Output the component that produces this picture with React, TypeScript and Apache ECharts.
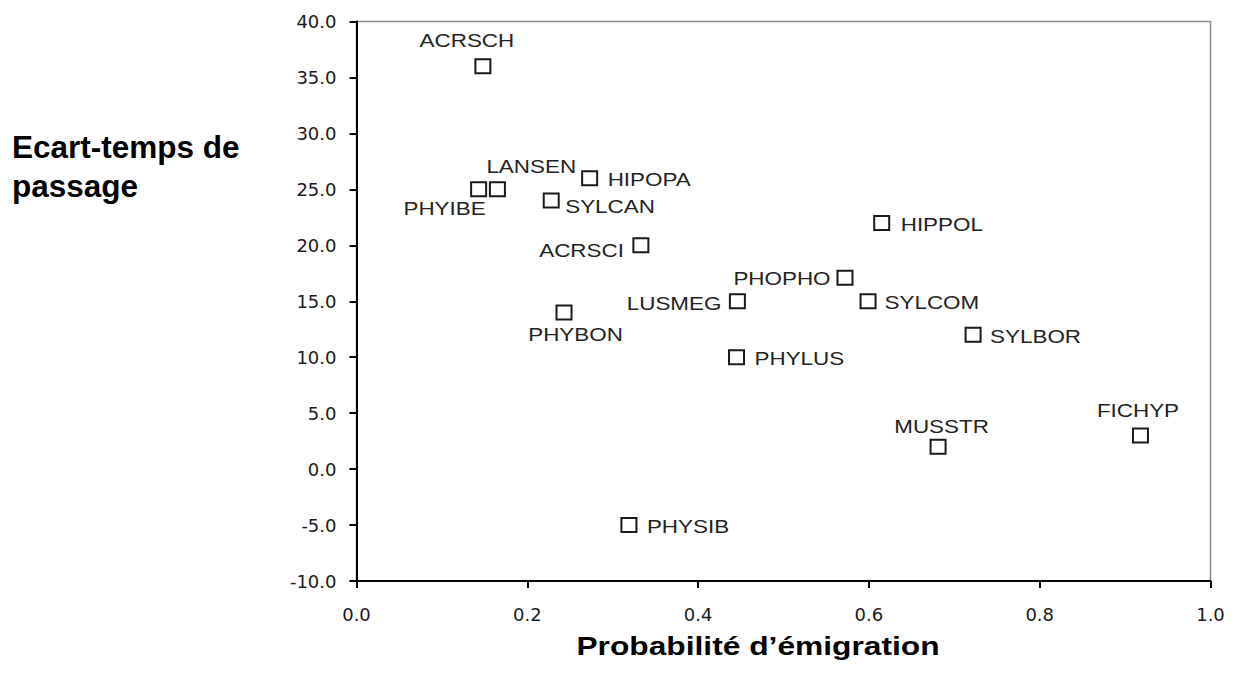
import React, { useEffect, useRef } from "react";
import * as echarts from "echarts";

// Species codes and their two measured traits
const species = [
  "ACRSCH", "PHYIBE", "LANSEN", "HIPOPA", "SYLCAN", "ACRSCI", "PHYBON", "LUSMEG",
  "PHOPHO", "PHYLUS", "SYLCOM", "HIPPOL", "SYLBOR", "MUSSTR", "FICHYP", "PHYSIB",
];
const emigration = [
  0.148, 0.143, 0.165, 0.273, 0.228, 0.333, 0.243, 0.446,
  0.572, 0.445, 0.599, 0.615, 0.722, 0.681, 0.918, 0.319,
];
const passageGap = [
  36, 25, 25, 26, 24, 20, 14, 15,
  17.1, 10, 15, 22, 12, 2, 3, -5,
];

// Axis ranges
const xRange = { min: 0, max: 1, step: 0.2 };
const yRange = { min: -10, max: 40, step: 5 };

// Label placement around each marker: [align, dx, dy]
const labelPlacement: Record<string, [string, number, number]> = {
  ACRSCH: ["center", -16, -26],
  PHYIBE: ["right", 7, 18.5],
  LANSEN: ["left", -11, -23],
  HIPOPA: ["left", 18, 0.5],
  SYLCAN: ["left", 14, 5.5],
  ACRSCI: ["right", -17, 4.5],
  PHYBON: ["center", 11.5, 21.5],
  LUSMEG: ["right", -16, 1.5],
  PHOPHO: ["right", -14.5, 0.7],
  PHYLUS: ["left", 18, 1],
  SYLCOM: ["left", 16.5, 0.8],
  HIPPOL: ["left", 19, 1],
  SYLBOR: ["left", 17, 1.2],
  MUSSTR: ["center", 3.5, -21],
  FICHYP: ["center", -2.5, -25],
  PHYSIB: ["left", 18, 1],
};

const labelFont = '19px "Liberation Sans", Arial, sans-serif';
const tickFont = "DejaVu Sans";
const titleFont = 'bold 31.5px "Liberation Sans", Arial, sans-serif';

export default function App() {
  const ref = useRef<HTMLDivElement>(null);

  useEffect(() => {
    if (!ref.current) return;
    const chart = echarts.init(ref.current, undefined, { renderer: "svg" });

    const points = species.map((_, i) => [emigration[i], passageGap[i]]);

    const axisCommon = {
      type: "value" as const,
      axisLine: { show: true, onZero: false, lineStyle: { color: "#000", width: 2 } },
      axisTick: { show: true, length: 7, lineStyle: { color: "#000", width: 2 } },
      splitLine: { show: false },
    };

    chart.setOption({
      animation: false,
      backgroundColor: "#fff",
      grid: {
        left: 356.5,
        top: 21.5,
        right: 30.5,
        bottom: 92,
        show: true,
        borderColor: "#8c8c8c",
        borderWidth: 1.5,
      },
      xAxis: {
        ...axisCommon,
        min: xRange.min,
        max: xRange.max,
        interval: xRange.step,
        axisLabel: {
          formatter: (v: number) => v.toFixed(1),
          margin: 24,
          color: "#1a1a1a",
          fontSize: 18,
          fontFamily: tickFont,
        },
      },
      yAxis: {
        ...axisCommon,
        min: yRange.min,
        max: yRange.max,
        interval: yRange.step,
        axisLabel: {
          formatter: (v: number) => v.toFixed(1),
          margin: 20,
          color: "#1a1a1a",
          fontSize: 18,
          fontFamily: tickFont,
        },
      },
      series: [
        {
          type: "custom",
          clip: false,
          z: 10,
          data: points,
          renderItem: (params: any, api: any) => {
            const p = api.coord([api.value(0), api.value(1)]);
            const name = species[params.dataIndex];
            const [align, dx, dy] = labelPlacement[name];
            return {
              type: "group",
              children: [
                {
                  type: "rect",
                  shape: { x: p[0] - 7.5, y: p[1] - 7, width: 15, height: 14 },
                  style: { fill: "#fff", stroke: "#1a1a1a", lineWidth: 2 },
                },
                {
                  type: "text",
                  x: p[0] + dx,
                  y: p[1] + dy,
                  scaleX: 1.18,
                  style: {
                    text: name,
                    x: 0,
                    y: 0,
                    align,
                    verticalAlign: "middle",
                    textAlign: align,
                    textVerticalAlign: "middle",
                    fill: "#222",
                    font: labelFont,
                  },
                },
              ],
            };
          },
        },
      ],
      graphic: [
        {
          type: "text",
          x: 12,
          y: 147,
          style: {
            text: "Ecart-temps de",
            font: titleFont,
            fill: "#000",
            align: "left",
            verticalAlign: "middle",
            textAlign: "left",
            textVerticalAlign: "middle",
          },
        },
        {
          type: "text",
          x: 12,
          y: 186,
          style: {
            text: "passage",
            font: titleFont,
            fill: "#000",
            align: "left",
            verticalAlign: "middle",
            textAlign: "left",
            textVerticalAlign: "middle",
          },
        },
        {
          type: "text",
          x: 758,
          y: 646.5,
          scaleX: 1.27,
          style: {
            text: "Probabilité d\u2019émigration",
            font: 'bold 25px "Liberation Sans", Arial, sans-serif',
            fill: "#000",
            align: "center",
            verticalAlign: "middle",
            textAlign: "center",
            textVerticalAlign: "middle",
          },
        },
      ],
    });

    return () => chart.dispose();
  }, []);

  return (
    <div
      ref={ref}
      style={{ position: "fixed", left: 0, top: 0, width: 1241, height: 673 }}
    />
  );
}
